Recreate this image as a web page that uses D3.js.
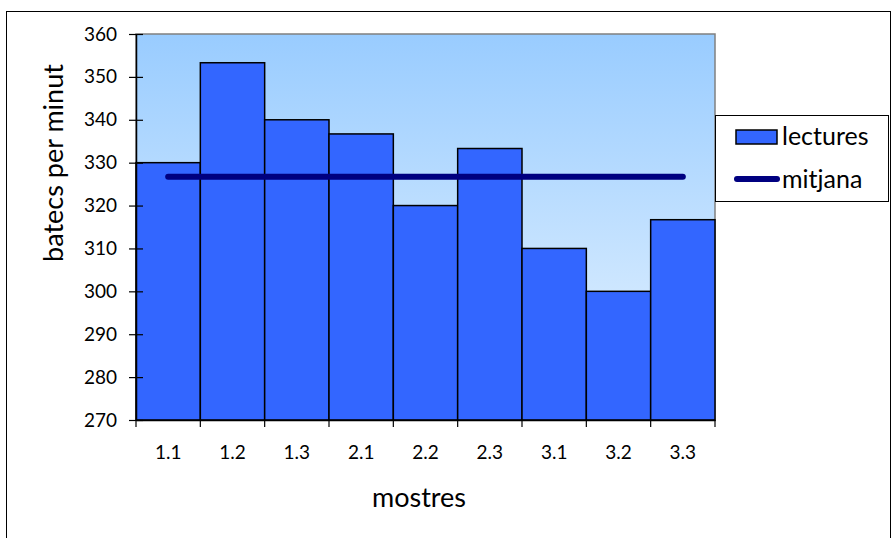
<!DOCTYPE html>
<html>
<head>
<meta charset="utf-8">
<script src="https://cdn.jsdelivr.net/npm/d3@7"></script>
<style>
  html, body { margin: 0; padding: 0; background: #fff; }
  svg { display: block; font-family: Lato, "Open Sans", sans-serif; }
</style>
</head>
<body>
<svg id="chart" width="892" height="538"></svg>
<script>
const categories = ["1.1", "1.2", "1.3", "2.1", "2.2", "2.3", "3.1", "3.2", "3.3"];
const lectures = [330, 353.3, 340, 336.7, 320, 333.3, 310, 300, 316.7];
const mitjana = [326.7, 326.7, 326.7, 326.7, 326.7, 326.7, 326.7, 326.7, 326.7];
const yTicks = [270, 280, 290, 300, 310, 320, 330, 340, 350, 360];
const seriesNames = ["lectures", "mitjana"];

const svg = d3.select("#chart");

// outer frame
svg.append("rect").attr("x", 6.5).attr("y", 11.5).attr("width", 884).attr("height", 540)
  .attr("fill", "#fff").attr("stroke", "#000").attr("stroke-width", 1);

const L = 136, R = 715, T = 34, B = 420;

const defs = svg.append("defs");
const grad = defs.append("linearGradient").attr("id", "bg").attr("x1", 0).attr("y1", 0).attr("x2", 0).attr("y2", 1);
grad.append("stop").attr("offset", "0%").attr("stop-color", "#99CCFF");
grad.append("stop").attr("offset", "100%").attr("stop-color", "#E8F4FF");

const x = d3.scaleBand().domain(categories).range([L, R]).padding(0);
const y = d3.scaleLinear().domain([270, 360]).range([B, T]);

// plot area
svg.append("rect").attr("x", L).attr("y", T).attr("width", R - L).attr("height", B - T)
  .attr("fill", "url(#bg)").attr("stroke", "#808080").attr("stroke-width", 1.5);

// bars
svg.append("g").selectAll("rect").data(lectures).join("rect")
  .attr("x", (d, i) => x(categories[i]))
  .attr("y", d => y(d))
  .attr("width", x.bandwidth())
  .attr("height", d => B - y(d))
  .attr("fill", "#3366FF")
  .attr("stroke", "#000")
  .attr("stroke-width", 1.5);

// y axis
const yAxis = d3.axisLeft(y).tickValues(yTicks).tickSizeInner(7).tickSizeOuter(0).tickPadding(12);
const gy = svg.append("g").attr("transform", `translate(${L},0)`).call(yAxis);
gy.attr("font-family", null).attr("font-size", null);
gy.select(".domain").attr("stroke", "#000").attr("stroke-width", 1.5);
gy.selectAll(".tick line").attr("stroke", "#000").attr("x2", -7).attr("x1", 7).attr("stroke-width", 1.2);
gy.selectAll(".tick text").style("font-size", "19px").attr("fill", "#000");

// x axis
const xAxis = d3.axisBottom(x).tickSize(0).tickPadding(26);
const gx = svg.append("g").attr("transform", `translate(0,${B})`).call(xAxis);
gx.attr("font-family", null).attr("font-size", null);
gx.select(".domain").attr("stroke", "#000").attr("stroke-width", 1.5);
gx.selectAll(".tick text").style("font-size", "19px").attr("fill", "#000");
// boundary ticks
const bounds = categories.map(c => x(c)).concat([R]);
svg.append("g").selectAll("line").data(bounds).join("line")
  .attr("x1", d => d).attr("x2", d => d).attr("y1", B).attr("y2", B + 7)
  .attr("stroke", "#000").attr("stroke-width", 1.2);

// mean line
const line = d3.line().x((d, i) => x(categories[i]) + x.bandwidth() / 2).y(d => y(d));
svg.append("path").datum(mitjana).attr("d", line)
  .attr("fill", "none").attr("stroke", "#000080").attr("stroke-width", 6).attr("stroke-linecap", "round");

// axis titles
svg.append("text").attr("x", 419).attr("y", 507).attr("text-anchor", "middle")
  .style("font-size", "27px").text("mostres");
svg.append("text").attr("transform", `translate(63,163) rotate(-90)`).attr("text-anchor", "middle")
  .style("font-size", "27px").text("batecs per minut");

// legend
const lg = svg.append("g");
lg.append("rect").attr("x", 715.5).attr("y", 115.5).attr("width", 173).attr("height", 86)
  .attr("fill", "#fff").attr("stroke", "#000").attr("stroke-width", 1);
lg.append("rect").attr("x", 736).attr("y", 130).attr("width", 41).attr("height", 14)
  .attr("fill", "#3366FF").attr("stroke", "#000").attr("stroke-width", 1.5);
lg.append("line").attr("x1", 737).attr("x2", 777).attr("y1", 179).attr("y2", 179)
  .attr("stroke", "#000080").attr("stroke-width", 6).attr("stroke-linecap", "round");
lg.append("text").attr("x", 782).attr("y", 145).style("font-size", "25px").text(seriesNames[0]);
lg.append("text").attr("x", 782).attr("y", 188).style("font-size", "25px").text(seriesNames[1]);
</script>
</body>
</html>
